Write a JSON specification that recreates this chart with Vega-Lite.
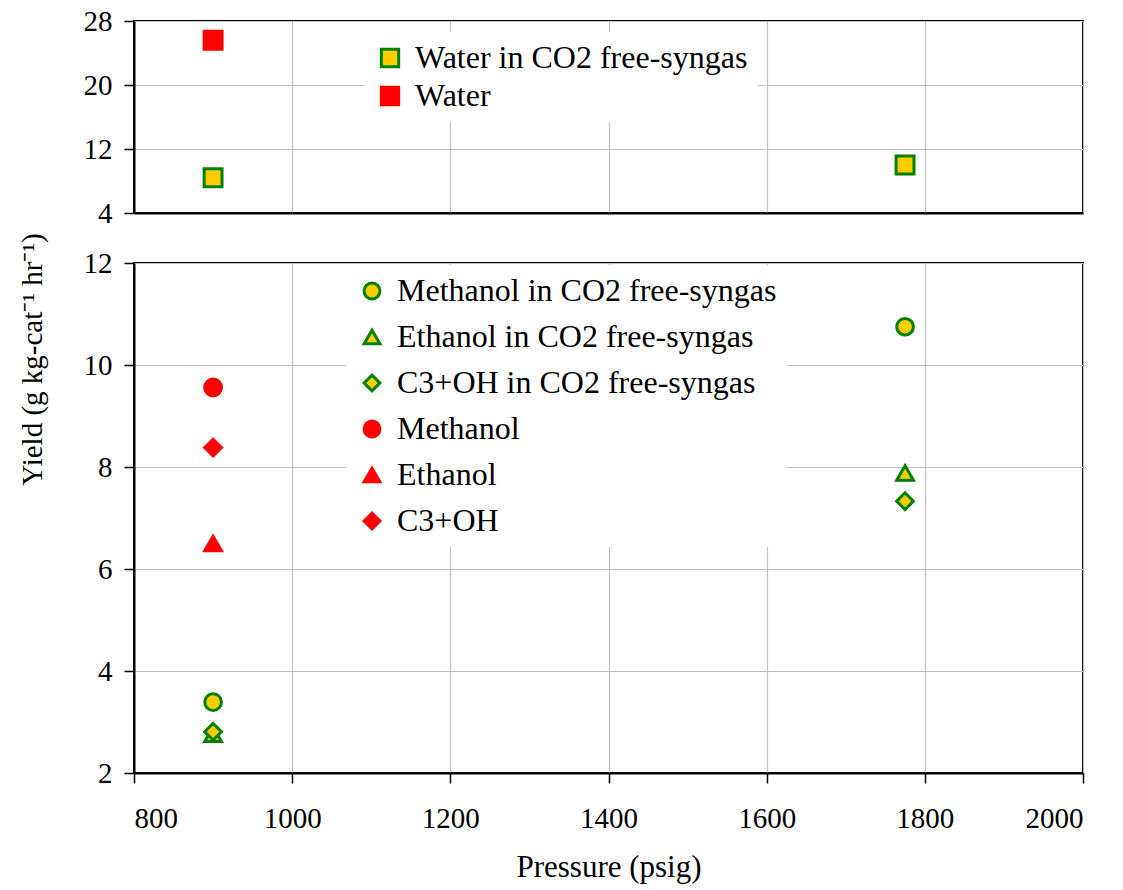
{
  "$schema": "https://vega.github.io/schema/vega-lite/v6.json",
  "background": "white",
  "padding": {"left": 16, "top": 6, "right": 5, "bottom": 5},
  "bounds": "flush",
  "spacing": 50,
  "config": {
    "font": "Liberation Serif",
    "view": {"stroke": "black", "strokeWidth": 2},
    "axis": {
      "grid": true, "gridColor": "#c0c0c0", "gridWidth": 1.2,
      "domainColor": "black", "domainWidth": 2,
      "tickColor": "black", "tickWidth": 1.5, "tickSize": 10,
      "labelFont": "Liberation Serif", "labelFontSize": 29, "labelColor": "black", "labelPadding": 12,
      "titleFont": "Liberation Serif", "titleFontSize": 31, "titleFontWeight": "normal", "titleColor": "black"
    },
    "legend": {
      "orient": "none", "fillColor": "white", "padding": 10,
      "labelFont": "Liberation Serif", "labelFontSize": 32, "labelColor": "black", "labelLimit": 600,
      "symbolStrokeWidth": 3, "labelOffset": 9
    }
  },
  "resolve": {"scale": {"fill": "independent", "stroke": "independent", "shape": "independent"}, "legend": {"fill": "independent", "stroke": "independent", "shape": "independent"}},
  "vconcat": [
    {
      "width": 949, "height": 192,
      "data": {"values": [
        {"series": "Water in CO2 free-syngas", "pressure": 900, "yield": 8.4},
        {"series": "Water in CO2 free-syngas", "pressure": 1775, "yield": 10.0},
        {"series": "Water", "pressure": 900, "yield": 25.6}
      ]},
      "mark": {"type": "point", "size": 320, "strokeWidth": 3, "opacity": 1, "filled": false},
      "encoding": {
        "x": {"field": "pressure", "type": "quantitative", "scale": {"domain": [800, 2000], "nice": false},
              "axis": {"values": [800, 1000, 1200, 1400, 1600, 1800, 2000], "labels": false, "ticks": false, "title": null}},
        "y": {"field": "yield", "type": "quantitative", "scale": {"domain": [4, 28], "nice": false},
              "axis": {"values": [4, 12, 20, 28], "title": null}},
        "fill": {"field": "series", "type": "nominal",
                 "scale": {"domain": ["Water in CO2 free-syngas", "Water"], "range": ["#FFCC00", "#FF0000"]},
                 "legend": {"title": null, "legendX": 230, "legendY": 11, "rowPadding": 6, "symbolSize": 300}},
        "stroke": {"field": "series", "type": "nominal",
                   "scale": {"domain": ["Water in CO2 free-syngas", "Water"], "range": ["#008000", "#FF0000"]},
                   "legend": {"title": null, "legendX": 230, "legendY": 11, "rowPadding": 6, "symbolSize": 300}},
        "shape": {"field": "series", "type": "nominal",
                  "scale": {"domain": ["Water in CO2 free-syngas", "Water"], "range": ["square", "square"]},
                  "legend": {"title": null, "legendX": 230, "legendY": 11, "rowPadding": 6, "symbolSize": 300}}
      }
    },
    {
      "width": 949, "height": 510,
      "data": {"values": [
        {"series": "Methanol in CO2 free-syngas", "pressure": 900, "yield": 3.39},
        {"series": "Methanol in CO2 free-syngas", "pressure": 1775, "yield": 10.75},
        {"series": "Ethanol in CO2 free-syngas", "pressure": 900, "yield": 2.76},
        {"series": "Ethanol in CO2 free-syngas", "pressure": 1775, "yield": 7.88},
        {"series": "C3+OH in CO2 free-syngas", "pressure": 900, "yield": 2.81},
        {"series": "C3+OH in CO2 free-syngas", "pressure": 1775, "yield": 7.33},
        {"series": "Methanol", "pressure": 900, "yield": 9.56},
        {"series": "Ethanol", "pressure": 900, "yield": 6.5},
        {"series": "C3+OH", "pressure": 900, "yield": 8.38}
      ]},
      "mark": {"type": "point", "size": 280, "strokeWidth": 3, "opacity": 1, "filled": false},
      "encoding": {
        "x": {"field": "pressure", "type": "quantitative", "scale": {"domain": [800, 2000], "nice": false},
              "axis": {"values": [800, 1000, 1200, 1400, 1600, 1800, 2000], "format": "d", "title": "Pressure (psig)", "labelPadding": 21, "titlePadding": 19}},
        "y": {"field": "yield", "type": "quantitative", "scale": {"domain": [2, 12], "nice": false},
              "axis": {"values": [2, 4, 6, 8, 10, 12], "title": "Yield (g kg-cat⁻¹ hr⁻¹)", "titleFontSize": 29,
                       "titleX": -102, "titleY": 96, "titleAngle": -90, "titleAlign": "center", "titleBaseline": "middle"}},
        "fill": {"field": "series", "type": "nominal",
                 "scale": {"domain": ["Methanol in CO2 free-syngas", "Ethanol in CO2 free-syngas", "C3+OH in CO2 free-syngas", "Methanol", "Ethanol", "C3+OH"],
                           "range": ["#FFCC00", "#FFCC00", "#FFCC00", "#FF0000", "#FF0000", "#FF0000"]},
                 "legend": {"title": null, "legendX": 212, "legendY": 2, "rowPadding": 14, "symbolSize": 250}},
        "stroke": {"field": "series", "type": "nominal",
                   "scale": {"domain": ["Methanol in CO2 free-syngas", "Ethanol in CO2 free-syngas", "C3+OH in CO2 free-syngas", "Methanol", "Ethanol", "C3+OH"],
                             "range": ["#008000", "#008000", "#008000", "#FF0000", "#FF0000", "#FF0000"]},
                   "legend": {"title": null, "legendX": 212, "legendY": 2, "rowPadding": 14, "symbolSize": 250}},
        "shape": {"field": "series", "type": "nominal",
                  "scale": {"domain": ["Methanol in CO2 free-syngas", "Ethanol in CO2 free-syngas", "C3+OH in CO2 free-syngas", "Methanol", "Ethanol", "C3+OH"],
                            "range": ["circle", "triangle-up", "diamond", "circle", "triangle-up", "diamond"]},
                  "legend": {"title": null, "legendX": 212, "legendY": 2, "rowPadding": 14, "symbolSize": 250}}
      }
    }
  ]
}
